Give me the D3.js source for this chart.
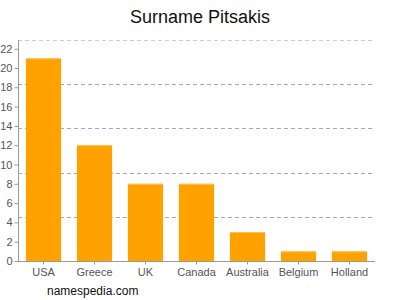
<!DOCTYPE html>
<html>
<head>
<meta charset="utf-8">
<script src="https://cdn.jsdelivr.net/npm/d3@7"></script>
<style>
  body { margin: 0; background: #fff; }
  text { font-family: "Liberation Sans", Arial, sans-serif; }
</style>
</head>
<body>
<svg id="chart" width="400" height="300"></svg>
<script>
const countries = ["USA", "Greece", "UK", "Canada", "Australia", "Belgium", "Holland"];
const counts = [21, 12, 8, 8, 3, 1, 1];
const yTicks = [0, 2, 4, 6, 8, 10, 12, 14, 16, 18, 20, 22];

const plotLeft = 18, plotRight = 375, plotTop = 40, plotBottom = 261;
const yMax = 22.9;

const svg = d3.select('#chart');

const x = d3.scaleBand().domain(countries).range([plotLeft, plotRight]).paddingInner(0.31).paddingOuter(0.155);
const y = d3.scaleLinear().domain([0, yMax]).range([plotBottom, plotTop]);

// dashed grid, 5 even divisions of the plot height
const grid = svg.append('g');
d3.range(1, 6).forEach((i) => {
  const gy = Math.round(plotBottom - i * (plotBottom - plotTop) / 5) + 0.5;
  grid.append('line')
    .attr('x1', plotLeft).attr('x2', plotRight)
    .attr('y1', gy).attr('y2', gy)
    .attr('stroke', i === 5 ? '#ccc' : '#aaa')
    .attr('stroke-dasharray', '4,3');
});

// bars
const bars = svg.append('g');
countries.forEach((c, i) => {
  bars.append('rect')
    .attr('x', x(c)).attr('width', x.bandwidth())
    .attr('y', y(counts[i])).attr('height', plotBottom - y(counts[i]))
    .attr('fill', '#ffa200');
  bars.append('rect')
    .attr('x', x(c)).attr('width', x.bandwidth())
    .attr('y', y(counts[i])).attr('height', 1)
    .attr('fill', '#ffc254');
});

// y axis
const yAxis = d3.axisLeft(y).tickValues(yTicks).tickSize(4).tickPadding(2);
const yg = svg.append('g').attr('transform', `translate(${plotLeft + 0.5},0)`).call(yAxis);
yg.select('.domain').attr('stroke', '#999').attr('d', `M0,${plotTop}V${plotBottom}`);
yg.selectAll('.tick line').attr('stroke', '#999');
yg.selectAll('.tick text').attr('fill', '#555').attr('font-size', 11);

// x axis
const xAxis = d3.axisBottom(x).tickSize(3).tickPadding(4);
const xg = svg.append('g').attr('transform', `translate(0,${plotBottom + 0.5})`).call(xAxis);
xg.select('.domain').attr('stroke', '#999').attr('d', `M${plotLeft},0H${plotRight}`);
xg.selectAll('.tick line').attr('stroke', '#999');
xg.selectAll('.tick text').attr('fill', '#555').attr('font-size', 11);

svg.append('text').attr('x', 200).attr('y', 23)
  .attr('text-anchor', 'middle').attr('font-size', 18).attr('fill', '#111')
  .text('Surname Pitsakis');

svg.append('text').attr('x', 47).attr('y', 295)
  .attr('font-size', 12).attr('fill', '#111')
  .text('namespedia.com');
</script>
</body>
</html>
